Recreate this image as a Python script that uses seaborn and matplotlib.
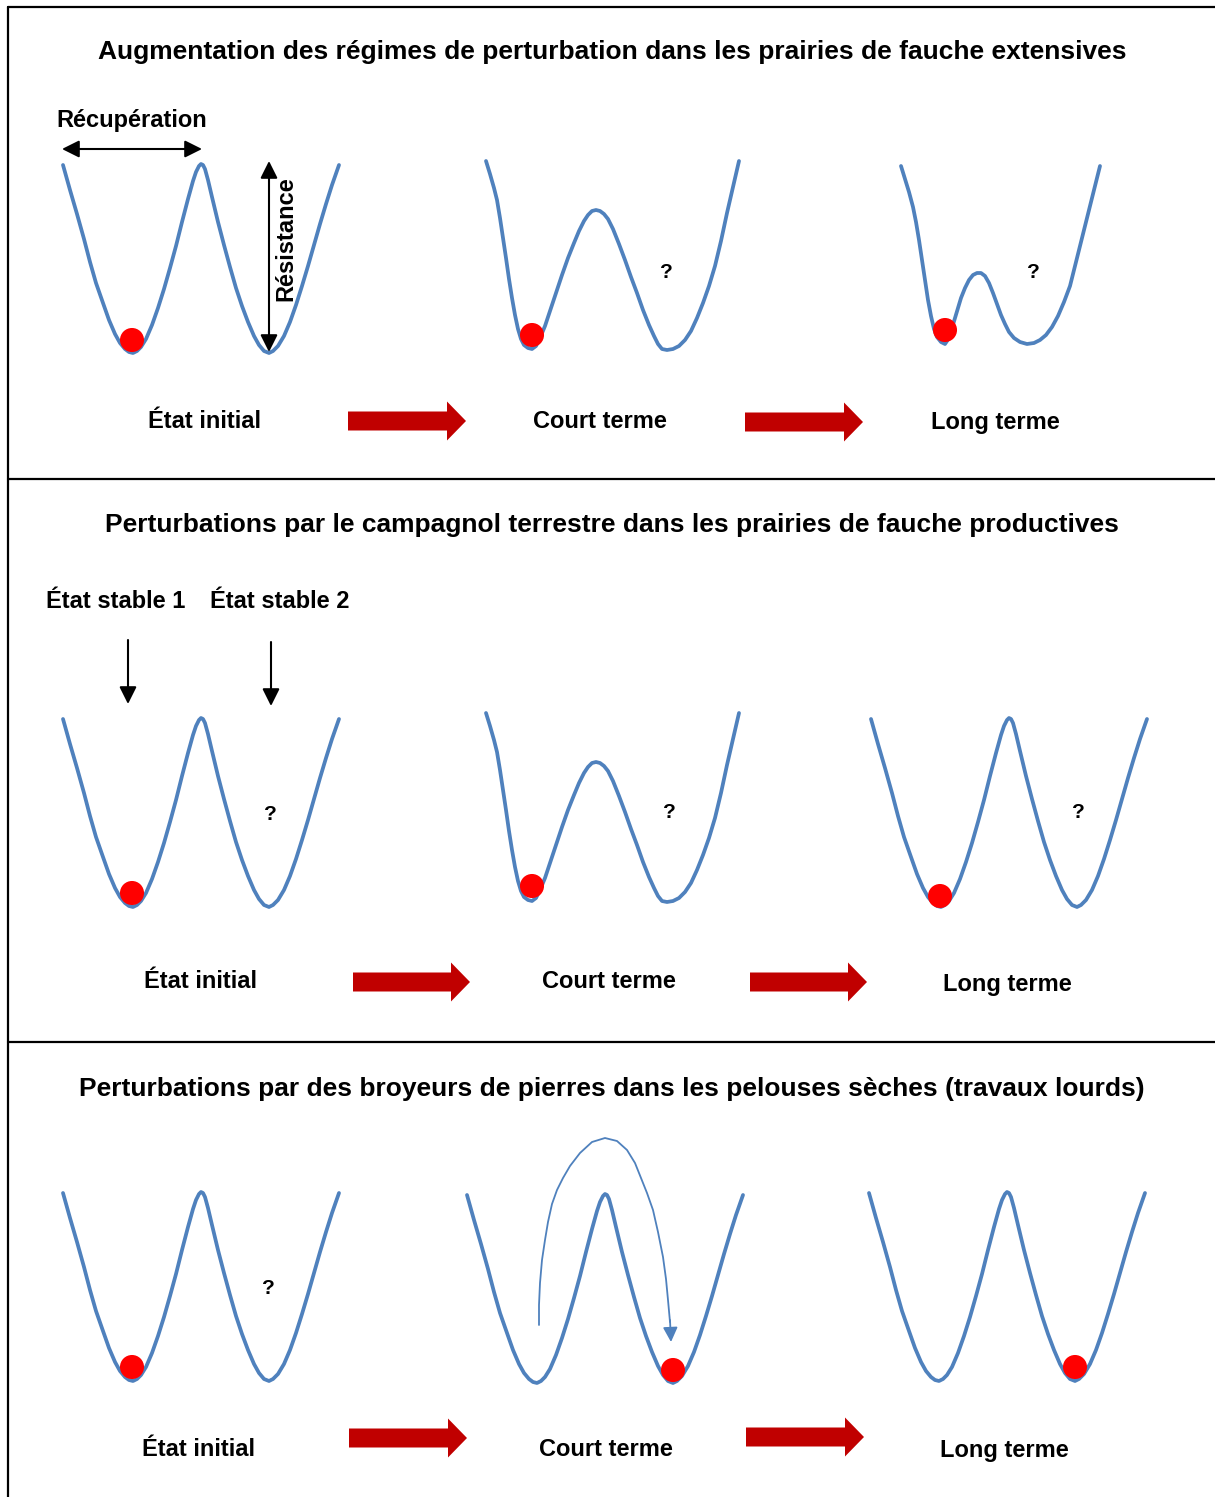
import pandas as pd
import seaborn as sns
import matplotlib.pyplot as plt
from matplotlib.patches import FancyArrow

sns.set_style("white")
plt.rcParams["font.family"] = ["Liberation Sans", "DejaVu Sans"]
plt.rcParams["text.color"] = "black"

BLUE = "#4F81BD"
DARK_RED = "#C00000"

# Puits symétrique (forme de base, panneau en haut à gauche)
W_SYM_X = [63, 70, 77, 84, 90, 96, 103, 109, 115, 120, 125, 129, 133, 137, 141, 146, 152,
           158, 164, 170, 176, 182, 188, 193, 196, 199, 201, 203, 205, 208, 212, 218, 224,
           230, 236, 242, 248, 254, 259, 264, 269, 273, 278, 284, 290, 296, 302, 308, 314,
           320, 326, 332, 339]
W_SYM_Y = [165, 190, 214, 239, 262, 283, 303, 320, 334, 343, 349, 352, 353, 351, 347, 339,
           325, 308, 289, 268, 246, 222, 199, 181, 172, 166, 164, 165, 169, 180, 197, 222,
           245, 267, 288, 306, 322, 336, 345, 351, 353, 351, 346, 336, 322, 305, 286, 266,
           245, 224, 204, 185, 165]
W_SYM_SHIFT = [(0, 0), (0, 554), (808, 554), (0, 1028), (404, 1030), (806, 1028)]

# Court terme : barrière abaissée
W_SHORT_X = [486, 490, 494, 497, 500, 503, 506, 509, 512, 515, 518, 521, 524, 528, 532,
             536, 540, 545, 550, 556, 562, 568, 574, 579, 584, 588, 592, 596, 600, 604,
             608, 613, 619, 625, 631, 637, 643, 649, 654, 658, 662, 667, 673, 679, 685,
             691, 697, 703, 709, 715, 721, 727, 733, 739]
W_SHORT_Y = [161, 174, 188, 200, 218, 238, 258, 279, 298, 315, 329, 339, 345, 348, 349,
             346, 338, 326, 311, 293, 275, 258, 243, 231, 221, 215, 211, 210, 211, 214,
             219, 229, 244, 260, 277, 293, 310, 325, 336, 344, 349, 350, 349, 346, 340,
             331, 318, 303, 286, 266, 241, 213, 187, 161]
W_SHORT_SHIFT = [(0, 0), (0, 552)]

# Long terme : barrière très basse
W_LONG_X = [901, 905, 909, 913, 916, 919, 922, 925, 928, 931, 934, 937, 941, 945, 949, 952,
            955, 958, 961, 965, 969, 973, 977, 981, 985, 989, 993, 997, 1001, 1005, 1009,
            1014, 1020, 1027, 1034, 1040, 1046, 1052, 1058, 1064, 1070, 1076, 1082, 1088,
            1094, 1100]
W_LONG_Y = [166, 179, 192, 207, 222, 240, 260, 280, 300, 316, 329, 337, 342, 344, 338, 328,
            318, 308, 298, 288, 280, 275, 273, 273, 276, 283, 293, 304, 315, 324, 332,
            338, 342, 344, 343, 340, 335, 327, 316, 302, 286, 262, 238, 214, 190, 166]

# Billes (état du système)
BALL_X = [132, 532, 945, 132, 532, 940, 132, 673, 1075]
BALL_Y = [340, 335, 330, 893, 886, 896, 1367, 1370, 1367]

# Flèches rouges entre les états
ARROW_X0 = [348, 745, 353, 750, 349, 746]
ARROW_X1 = [466, 863, 470, 867, 467, 864]
ARROW_Y = [421, 422, 982, 982, 1438, 1437]

# Saut par-dessus la barrière (broyeur de pierres)
JUMP_X = [539, 539, 540, 542, 545, 548, 552, 557, 563, 570, 580, 592, 605, 617, 627, 635,
          641, 647, 653, 658, 663, 666, 668, 670]
JUMP_Y = [1325, 1305, 1283, 1260, 1240, 1222, 1204, 1190, 1178, 1166, 1153, 1142, 1138,
          1141, 1150, 1163, 1178, 1193, 1210, 1232, 1257, 1279, 1300, 1322]

TITLES = [
    "Augmentation des régimes de perturbation dans les prairies de fauche extensives",
    "Perturbations par le campagnol terrestre dans les prairies de fauche productives",
    "Perturbations par des broyeurs de pierres dans les pelouses sèches (travaux lourds)",
]
TITLE_Y = [52, 525, 1089]

STAGE_LABELS = ["État initial", "Court terme", "Long terme"] * 3
STAGE_X = [204, 600, 995, 201, 609, 1007, 198, 606, 1004]
STAGE_Y = [421, 421, 423, 982, 982, 984, 1449, 1449, 1451]

QMARK_X = [666, 1033, 270, 669, 1078, 268]
QMARK_Y = [273, 272, 815, 812, 812, 1289]

fig = plt.figure(figsize=(12.15, 14.97), dpi=100)
ax = fig.add_axes([0, 0, 1, 1])
ax.set_xlim(0, 1215)
ax.set_ylim(1497, 0)
ax.axis("off")

# Cadre et séparateurs
for y in [7, 479, 1042]:
    ax.plot([8, 1215], [y, y], color="black", lw=1.6)
ax.plot([8, 8], [7, 1497], color="black", lw=1.6)

# Paysages de stabilité
def draw_curve(xs, ys, dx, dy):
    df = pd.DataFrame({"x": [v + dx for v in xs], "y": [v + dy for v in ys]})
    sns.lineplot(data=df, x="x", y="y", sort=False, estimator=None, color=BLUE,
                 lw=2.7, ax=ax, solid_capstyle="round", solid_joinstyle="round")

for dx, dy in W_SYM_SHIFT:
    draw_curve(W_SYM_X, W_SYM_Y, dx, dy)
for dx, dy in W_SHORT_SHIFT:
    draw_curve(W_SHORT_X, W_SHORT_Y, dx, dy)
draw_curve(W_LONG_X, W_LONG_Y, 0, 0)

sns.scatterplot(x=BALL_X, y=BALL_Y, s=300, color="#FF0000", edgecolor="none",
                zorder=5, ax=ax)

# Flèches rouges
for x0, x1, y in zip(ARROW_X0, ARROW_X1, ARROW_Y):
    ax.add_patch(FancyArrow(x0, y, x1 - x0, 0, width=19, head_width=39, head_length=19,
                            length_includes_head=True, color=DARK_RED, lw=0))

# Saut au-dessus de la barrière
sns.lineplot(x=JUMP_X, y=JUMP_Y, sort=False, estimator=None, color=BLUE, lw=1.3, ax=ax,
             solid_joinstyle="round")
ax.annotate("", xy=(671, 1342), xytext=(670, 1320),
            arrowprops=dict(arrowstyle="-|>", color=BLUE, lw=1.3, mutation_scale=22,
                            shrinkA=0, shrinkB=0))

# Flèches noires
black = dict(color="black", lw=1.5, mutation_scale=26, shrinkA=0, shrinkB=0)
ax.annotate("", xy=(62, 149), xytext=(202, 149), arrowprops=dict(arrowstyle="<|-|>", **black))
ax.annotate("", xy=(269, 161), xytext=(269, 352), arrowprops=dict(arrowstyle="<|-|>", **black))
ax.annotate("", xy=(128, 704), xytext=(128, 640), arrowprops=dict(arrowstyle="-|>", **black))
ax.annotate("", xy=(271, 706), xytext=(271, 642), arrowprops=dict(arrowstyle="-|>", **black))

# Textes
for t, y in zip(TITLES, TITLE_Y):
    ax.text(612, y, t, ha="center", va="center", fontsize=19, fontweight="bold", color="black")
for t, x, y in zip(STAGE_LABELS, STAGE_X, STAGE_Y):
    ax.text(x, y, t, ha="center", va="center", fontsize=17, fontweight="bold", color="black")
for x, y in zip(QMARK_X, QMARK_Y):
    ax.text(x, y, "?", ha="center", va="center", fontsize=15, fontweight="bold", color="black")

ax.text(132, 121, "Récupération", ha="center", va="center", fontsize=17, fontweight="bold",
        color="black")
ax.text(286, 239, "Résistance", ha="center", va="center", rotation=90, fontsize=17,
        fontweight="bold", color="black")
ax.text(116, 601, "État stable 1", ha="center", va="center", fontsize=17, fontweight="bold",
        color="black")
ax.text(280, 601, "État stable 2", ha="center", va="center", fontsize=17, fontweight="bold",
        color="black")

fig.savefig("out.png", dpi=100)
